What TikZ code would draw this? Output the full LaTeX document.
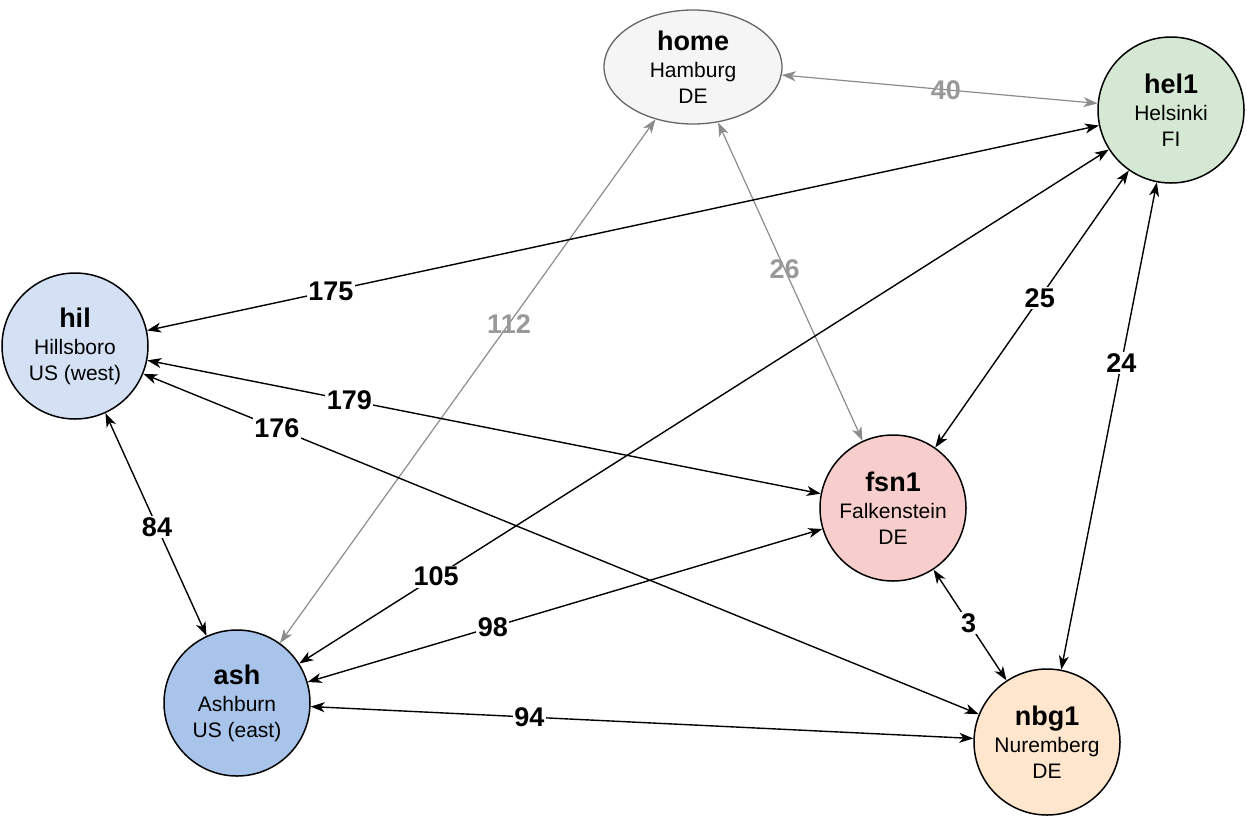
\documentclass[tikz,border=0pt]{standalone}
\usepackage{fontspec}
\setmainfont{Liberation Sans}
\usetikzlibrary{arrows.meta,shapes.geometric}
\definecolor{homefill}{HTML}{F5F5F5}
\definecolor{homeline}{HTML}{666666}
\definecolor{helfill}{HTML}{D5E8D4}
\definecolor{hilfill}{HTML}{D4E1F5}
\definecolor{fsnfill}{HTML}{F8CECC}
\definecolor{ashfill}{HTML}{A9C4EB}
\definecolor{nbgfill}{HTML}{FFE6CC}
\definecolor{linkgray}{HTML}{8C8C8C}
\definecolor{labelgray}{HTML}{999999}
\begin{document}
\begin{tikzpicture}[x=1pt,y=-1pt,
  >={Stealth[length=14pt,width=10pt,inset=4pt]},
  site/.style={circle,draw=black,line width=1.5pt,minimum size=146pt,inner sep=0pt,
    align=center,font=\fontsize{21}{26}\selectfont},
  link/.style={<->,line width=1.4pt,draw=black},
  faint/.style={<->,line width=1.2pt,draw=linkgray},
  lbl/.style={font=\fontsize{27}{27}\selectfont\bfseries,fill=white,inner sep=1.5pt},
  faintlbl/.style={font=\fontsize{27}{27}\selectfont\bfseries,text=labelgray,inner sep=1pt},
]
\useasboundingbox (0,0) rectangle (1247,820);

% sites
\node[ellipse,draw=homeline,fill=homefill,line width=1.3pt,minimum width=178pt,
  minimum height=114pt,inner sep=0pt,align=center,font=\fontsize{21}{26}\selectfont]
  (home) at (693,67) {{\fontsize{27}{27}\selectfont\bfseries home}\\[1pt]Hamburg\\DE};
\node[site,fill=helfill] (hel1) at (1171,110) {{\fontsize{27}{27}\selectfont\bfseries hel1}\\[1pt]Helsinki\\FI};
\node[site,fill=hilfill] (hil) at (75,346) {{\fontsize{27}{27}\selectfont\bfseries hil}\\[1pt]Hillsboro\\US (west)};
\node[site,fill=fsnfill] (fsn1) at (893,508) {{\fontsize{27}{27}\selectfont\bfseries fsn1}\\[1pt]Falkenstein\\DE};
\node[site,fill=ashfill] (ash) at (237,703) {{\fontsize{27}{27}\selectfont\bfseries ash}\\[1pt]Ashburn\\US (east)};
\node[site,fill=nbgfill] (nbg1) at (1047,742) {{\fontsize{27}{27}\selectfont\bfseries nbg1}\\[1pt]Nuremberg\\DE};

% links from home
\draw[faint] (home) -- node[faintlbl,pos=0.52] (l40) {40} (hel1);
\draw[faint] (ash) -- node[faintlbl,pos=0.61] (l112) {112} (home);
\draw[faint] (home) -- node[faintlbl,pos=0.46] (l26) {26} (fsn1);

% links between data centres
\draw[link] (hel1) -- node[lbl,pos=0.807] (l175) {175} (hil);
\draw[link] (hel1) -- node[lbl,pos=0.831] (l105) {105} (ash);
\draw[link] (hel1) -- node[lbl,pos=0.46] (l25) {25} (fsn1);
\draw[link] (hel1) -- node[lbl,pos=0.37] (l24) {24} (nbg1);
\draw[link] (hil) -- node[lbl,pos=0.30] (l179) {179} (fsn1);
\draw[link] (hil) -- node[lbl,pos=0.16] (l176) {176} (nbg1);
\draw[link] (hil) -- node[lbl,pos=0.51] (l84) {84} (ash);
\draw[link] (fsn1) -- node[lbl,pos=0.64] (l98) {98} (ash);
\draw[link] (fsn1) -- node[lbl,pos=0.48] (l3) {3} (nbg1);
\draw[link] (ash) -- node[lbl,pos=0.33] (l94) {94} (nbg1);
\end{tikzpicture}
\end{document}
